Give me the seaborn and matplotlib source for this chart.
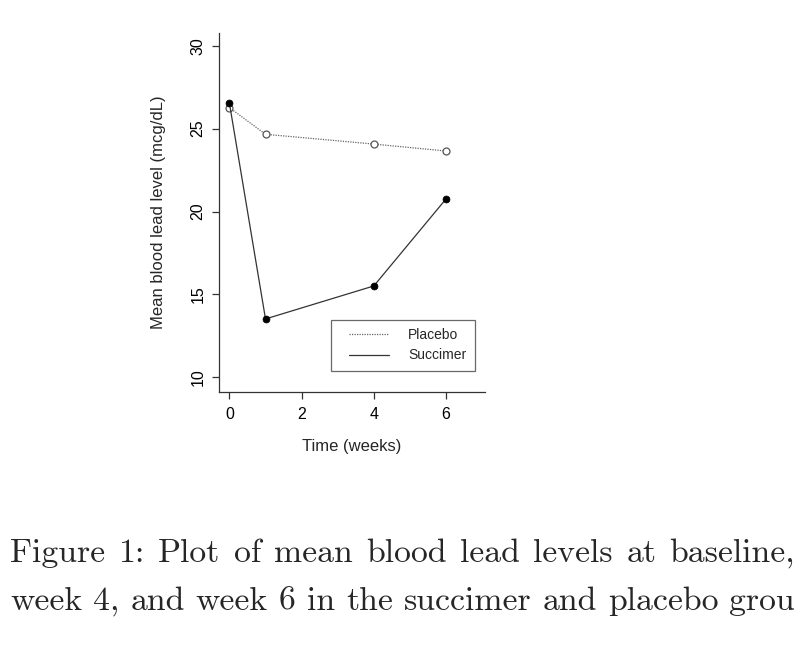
import matplotlib
matplotlib.use("Agg")
import matplotlib.pyplot as plt
import seaborn as sns
import pandas as pd
from matplotlib.lines import Line2D
from matplotlib.legend_handler import HandlerLine2D

weeks = [0, 1, 4, 6]
placebo = [26.27, 24.66, 24.07, 23.65]
succimer = [26.54, 13.52, 15.51, 20.76]
x_ticks = [0, 2, 4, 6]
y_ticks = [10, 15, 20, 25, 30]
caption_line1 = "Figure 1: Plot of mean blood lead levels at baseline,"
caption_line2 = "week 4, and week 6 in the succimer and placebo grou"

df = pd.DataFrame({
    "week": weeks * 2,
    "lead": placebo + succimer,
    "group": ["Placebo"] * 4 + ["Succimer"] * 4,
})

sns.set_theme(style="ticks")
plt.rcParams["font.family"] = ["Liberation Sans", "DejaVu Sans"]

W, H = 798, 668
fig = plt.figure(figsize=(W / 100, H / 100), dpi=100)
ax = fig.add_axes([0.2748, 0.4136, 0.3330, 0.5370])

sns.lineplot(data=df[df.group == "Placebo"], x="week", y="lead", ax=ax,
             color="#666666", linestyle=(0, (1, 1)), linewidth=0.9,
             marker="o", markersize=5, markerfacecolor="white",
             markeredgecolor="#555555", markeredgewidth=0.9, legend=False)
sns.lineplot(data=df[df.group == "Succimer"], x="week", y="lead", ax=ax,
             color="#333333", linestyle="-", linewidth=0.9,
             marker="o", markersize=5, markerfacecolor="black",
             markeredgecolor="black", markeredgewidth=0.5, legend=False)

ax.set_xlim(-0.28, 7.08)
ax.set_ylim(9.13, 30.77)
ax.set_xticks(x_ticks)
ax.set_yticks(y_ticks)
ax.set_xticklabels([str(v) for v in x_ticks], fontsize=11.5)
ax.set_yticklabels([str(v) for v in y_ticks], fontsize=11.5, rotation=90, va="center")
ax.set_xlabel("Time (weeks)", fontsize=12, labelpad=12.5)
ax.set_ylabel("Mean blood lead level (mcg/dL)", fontsize=12, labelpad=17.5)
for side in ["top", "right"]:
    ax.spines[side].set_visible(False)
for side in ["left", "bottom"]:
    ax.spines[side].set_color("#333333")
    ax.spines[side].set_linewidth(0.9)
ax.tick_params(axis="both", direction="out", length=5, width=0.9, color="#333333",
               labelcolor="black")
ax.tick_params(axis="x", pad=6)
ax.tick_params(axis="y", pad=5)


class ShiftedLineHandler(HandlerLine2D):
    def __init__(self, shift, **kw):
        super().__init__(**kw)
        self.shift = shift

    def create_artists(self, legend, orig_handle, xdescent, ydescent, width,
                       height, fontsize, trans):
        arts = super().create_artists(legend, orig_handle, xdescent, ydescent,
                                      width, height, fontsize, trans)
        for a in arts:
            if isinstance(a, Line2D) and a.get_linestyle() not in ("None", ""):
                xd = list(a.get_xdata())
                yd = list(a.get_ydata())
                if len(xd) >= 2:
                    a.set_data([xd[0] + self.shift, xd[-1]], [yd[0], yd[-1]])
        return arts


h_plac = Line2D([], [], color="#666666", linestyle=(0, (1, 1)), linewidth=0.9)
h_succ = Line2D([], [], color="#333333", linestyle="-", linewidth=0.9)
leg = ax.legend([h_plac, h_succ], ["Placebo", "Succimer"], loc="lower right",
                bbox_to_anchor=(1.0 - (485 - 475) / 265.7, (391.7 - 371) / 358.7),
                fontsize=10, frameon=True, fancybox=False, handlelength=3.6,
                handletextpad=1.35, borderpad=0.62, labelspacing=0.45,
                borderaxespad=0.0,
                handler_map={h_plac: ShiftedLineHandler(7.2),
                             h_succ: ShiftedLineHandler(7.2)})
leg.get_frame().set_edgecolor("#444444")
leg.get_frame().set_linewidth(0.9)


def place_justified(words, x_first, x_end, baseline_px, size):
    renderer = fig.canvas.get_renderer()
    texts = [fig.text(0, 1 - baseline_px / H, w, fontfamily="cmr10", fontsize=size,
                      va="baseline", ha="left") for w in words]
    widths = [t.get_window_extent(renderer).width for t in texts]
    gap = (x_end - x_first - sum(widths)) / (len(words) - 1)
    x = x_first
    for t, w in zip(texts, widths):
        t.set_x(x / W)
        x += w + gap


place_justified(caption_line1.split(" "), 10, 795, 562, 24.3)
place_justified(caption_line2.split(" "), 10, 795, 610, 24.3)

fig.savefig("out.png", dpi=100)
